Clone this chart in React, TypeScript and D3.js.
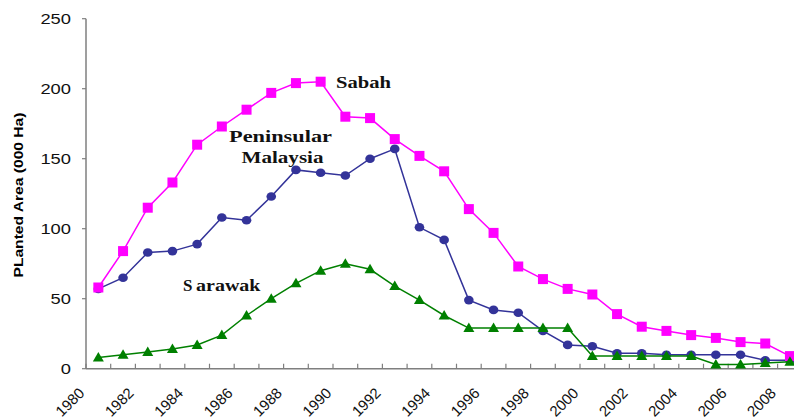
import React from "react";
import * as d3 from "d3";

const years = d3.range(1980, 2009).map(String);
const sabah = [58, 84, 115, 133, 160, 173, 185, 197, 204, 205, 180, 179, 164, 152, 141, 114, 97, 73, 64, 57, 53, 39, 30, 27, 24, 22, 19, 18, 9];
const peninsular = [57, 65, 83, 84, 89, 108, 106, 123, 142, 140, 138, 150, 157, 101, 92, 49, 42, 40, 27, 17, 16, 11, 11, 10, 10, 10, 10, 6, 6];
const sarawak = [8, 10, 12, 14, 17, 24, 38, 50, 61, 70, 75, 71, 59, 49, 38, 29, 29, 29, 29, 29, 9, 9, 9, 9, 9, 3, 3, 4, 5];
const yTicks = [0, 50, 100, 150, 200, 250];
const xLabels = years.filter((_, i) => i % 2 === 0);

const W = 794;
const H = 417;
const left = 86;
const step = 24.7;
const y0 = 368.7;
const yTop = 18.7;

export default function App() {
  const x = d3.scaleBand<string>().domain(years).range([left, left + step * years.length]).padding(0);
  const y = d3.scaleLinear().domain([0, 250]).range([y0, yTop]);
  const cx = (yr: string) => (x(yr) as number) + x.bandwidth() / 2;
  const line = d3
    .line<number>()
    .x((_, i) => cx(years[i]))
    .y((d) => y(d));

  const sabahC = "#ff00ff";
  const penC = "#333399";
  const sarC = "#008000";
  const tickBounds = years.map((yr) => x(yr) as number).concat([left + step * years.length]);

  return (
    <svg
      width={W}
      height={H}
      style={{ position: "absolute", left: 0, top: 0, background: "#fff" }}
      fontFamily="'Liberation Sans', Arial, sans-serif"
    >
      <rect width={W} height={H} fill="#fff" />
      {/* y axis */}
      <line x1={left} x2={left} y1={yTop} y2={y0} stroke="#7f7f7f" strokeWidth={1.5} />
      {yTicks.map((t) => (
        <g key={t}>
          <line x1={left - 4} x2={left} y1={y(t)} y2={y(t)} stroke="#7f7f7f" strokeWidth={1.2} />
          <text
            x={71}
            y={y(t) + 5}
            textAnchor="end"
            fontSize={15.5}
            fill="#111"
            textLength={String(t).length * 10.2}
            lengthAdjust="spacingAndGlyphs"
          >
            {t}
          </text>
        </g>
      ))}
      {/* x axis */}
      <line x1={left} x2={W} y1={y0} y2={y0} stroke="#7f7f7f" strokeWidth={1.5} />
      {tickBounds.map((b, i) => (
        <line key={i} x1={b} x2={b} y1={y0} y2={y0 - 5} stroke="#7f7f7f" strokeWidth={1.2} />
      ))}
      {xLabels.map((yr) => {
        const ax = cx(yr) - 13;
        const ay = 394;
        return (
          <text
            key={yr}
            x={ax}
            y={ay}
            textAnchor="end"
            fontSize={15}
            fill="#111"
            transform={`rotate(-45 ${ax} ${ay})`}
          >
            {yr}
          </text>
        );
      })}
      {/* y title */}
      <text
        x={0}
        y={0}
        transform="translate(23 195) rotate(-90)"
        textAnchor="middle"
        fontSize={13}
        fontWeight="bold"
        fill="#000"
        textLength={165}
        lengthAdjust="spacingAndGlyphs"
      >
        PLanted Area (000 Ha)
      </text>

      {/* Peninsular */}
      <path d={line(peninsular) || ""} fill="none" stroke={penC} strokeWidth={1.5} />
      {peninsular.map((v, i) => (
        <ellipse key={i} cx={cx(years[i])} cy={y(v)} rx={4.8} ry={4.3} fill={penC} />
      ))}
      {/* Sabah */}
      <path d={line(sabah) || ""} fill="none" stroke={sabahC} strokeWidth={1.5} />
      {sabah.map((v, i) => (
        <rect key={i} x={cx(years[i]) - 5} y={y(v) - 5} width={10} height={10} fill={sabahC} />
      ))}
      {/* Sarawak */}
      <path d={line(sarawak) || ""} fill="none" stroke={sarC} strokeWidth={1.5} />
      {sarawak.map((v, i) => {
        const px = cx(years[i]);
        const py = y(v);
        return <path key={i} d={`M${px},${py - 5.5}L${px + 5.5},${py + 4}L${px - 5.5},${py + 4}Z`} fill={sarC} />;
      })}

      {/* series labels */}
      <g fontFamily="'Liberation Serif', 'Times New Roman', serif" fontWeight="bold" fontSize={17} fill="#111">
        <text x={336} y={88} textLength={55} lengthAdjust="spacingAndGlyphs">Sabah</text>
        <text x={229} y={141.5} textLength={103} lengthAdjust="spacingAndGlyphs">Peninsular</text>
        <text x={241.5} y={163} textLength={82} lengthAdjust="spacingAndGlyphs">Malaysia</text>
        <text x={183} y={291}>
          <tspan>S</tspan>
          <tspan x={196} textLength={64.5} lengthAdjust="spacingAndGlyphs">arawak</tspan>
        </text>
      </g>
    </svg>
  );
}
